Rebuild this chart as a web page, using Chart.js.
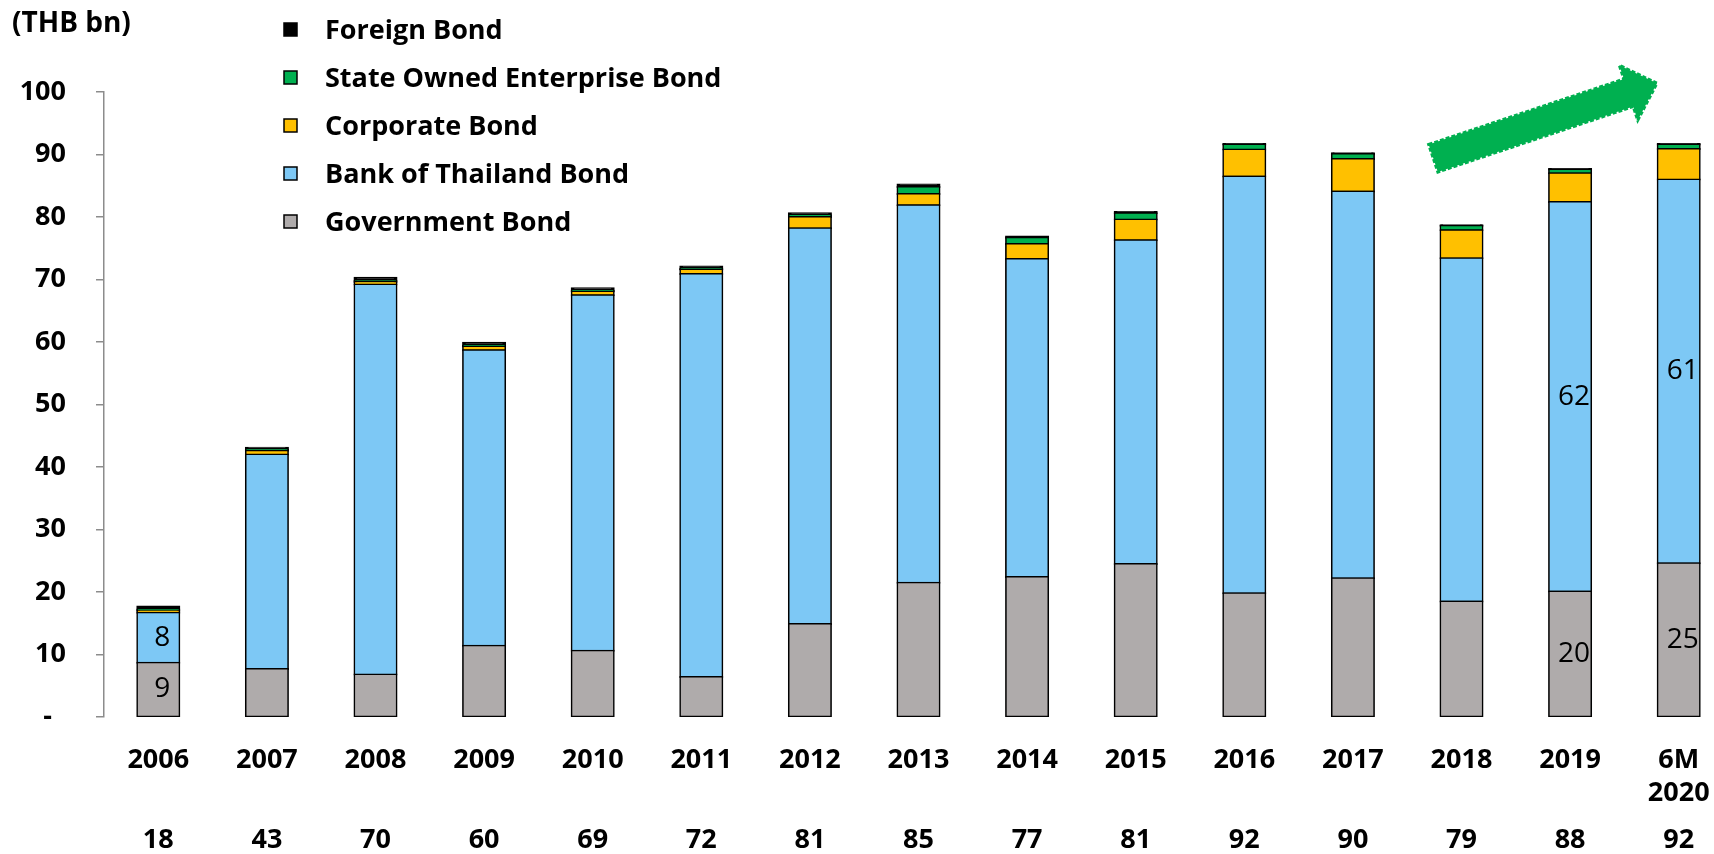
<!DOCTYPE html>
<html>
<head>
<meta charset="utf-8">
<title>Thai bond holdings (THB bn)</title>
<script src="https://cdn.jsdelivr.net/npm/chart.js@4.4.1/dist/chart.umd.min.js"></script>
<style>
  html, body { margin: 0; padding: 0; background: #ffffff; overflow: hidden; }
  #wrap { width: 1714px; height: 854px; overflow: hidden; position: relative; }
  canvas { display: block; }
</style>
</head>
<body>
<div id="wrap"><canvas id="chart" width="1733" height="854"></canvas></div>
<script>
// Years on the category axis (last one is the first half of 2020)
const categories = ['2006', '2007', '2008', '2009', '2010', '2011', '2012', '2013',
                    '2014', '2015', '2016', '2017', '2018', '2019', ['6M', '2020']];

// Holdings by bond type, THB bn
const governmentBond = [8.7, 7.7, 6.8, 11.4, 10.6, 6.4, 14.9, 21.5, 22.4, 24.5, 19.8, 22.2, 18.5, 20.1, 24.6];
const botBond        = [8.0, 34.3, 62.4, 47.3, 56.9, 64.5, 63.3, 60.4, 50.9, 51.8, 66.7, 61.9, 54.9, 62.3, 61.4];
const corporateBond  = [0.3, 0.6, 0.4, 0.6, 0.6, 0.7, 1.8, 1.8, 2.4, 3.3, 4.3, 5.2, 4.5, 4.6, 4.9];
const soeBond        = [0.2, 0.2, 0.2, 0.1, 0.1, 0.1, 0.3, 1.1, 1.0, 1.0, 0.8, 0.8, 0.7, 0.6, 0.7];
const foreignBond    = [0.5, 0.3, 0.5, 0.5, 0.4, 0.4, 0.3, 0.4, 0.2, 0.2, 0.1, 0.1, 0.1, 0.1, 0.1];

// Value axis ticks
const yTicks = [0, 10, 20, 30, 40, 50, 60, 70, 80, 90, 100];

// Bars whose government / BOT segments carry a value label
const labelledBars = [0, 13, 14];

const FONT = '"Open Sans", "Noto Sans", "Liberation Sans", sans-serif';
const AXIS_GREY = '#8c8c8c';

const series = [
  { label: 'Government Bond',             data: governmentBond, color: '#AFABAB' },
  { label: 'Bank of Thailand Bond',       data: botBond,        color: '#7DC8F5' },
  { label: 'Corporate Bond',              data: corporateBond,  color: '#FFC000' },
  { label: 'State Owned Enterprise Bond', data: soeBond,        color: '#00B050' },
  { label: 'Foreign Bond',                data: foreignBond,    color: '#000000' }
];

// Unit label, legend, segment values, totals row and the trend arrow
const decorations = {
  id: 'decorations',
  afterDraw(chart) {
    const ctx = chart.ctx;
    const xs = chart.scales.x;
    const ys = chart.scales.y;
    const area = chart.chartArea;
    ctx.save();

    // unit label
    ctx.fillStyle = '#000';
    ctx.font = 'bold 28px ' + FONT;
    ctx.textAlign = 'left';
    ctx.textBaseline = 'alphabetic';
    ctx.fillText('(THB bn)', 12, 32);

    // legend, top series first
    const dsList = chart.data.datasets;
    for (let k = 0; k < dsList.length; k++) {
      const ds = dsList[dsList.length - 1 - k];
      const cy = 29 + k * 48;
      ctx.fillStyle = ds.backgroundColor;
      ctx.fillRect(284, cy - 6, 13, 13);
      ctx.strokeStyle = '#000';
      ctx.lineWidth = 1.5;
      ctx.strokeRect(284, cy - 6, 13, 13);
      ctx.fillStyle = '#000';
      ctx.font = 'bold 27px ' + FONT;
      ctx.fillText(ds.label, 325, cy + 10);
    }

    // values inside the government and BOT segments
    ctx.font = '28px ' + FONT;
    ctx.textAlign = 'center';
    ctx.textBaseline = 'middle';
    ctx.fillStyle = '#000';
    for (let d = 0; d < 2; d++) {
      const meta = chart.getDatasetMeta(d);
      labelledBars.forEach(i => {
        const bar = meta.data[i];
        const v = dsList[d].data[i];
        ctx.fillText(String(Math.round(v)), bar.x + 4, (bar.y + bar.base) / 2);
      });
    }

    // totals row under the year labels
    ctx.font = 'bold 27px ' + FONT;
    ctx.textBaseline = 'alphabetic';
    categories.forEach((c, i) => {
      let total = 0;
      dsList.forEach(ds => { total += ds.data[i]; });
      ctx.fillText(String(Math.round(total)), xs.getPixelForValue(i), area.bottom + 131);
    });

    // upward trend arrow
    const x0 = xs.getPixelForValue(11.74), y0 = ys.getPixelForValue(89.4);
    const x1 = xs.getPixelForValue(13.80), y1 = ys.getPixelForValue(101.4);
    const ang = Math.atan2(y1 - y0, x1 - x0);
    const len = Math.hypot(x1 - x0, y1 - y0);
    const shaftHalf = 14.5, headHalf = 29, headLen = 30;
    ctx.translate(x0, y0);
    ctx.rotate(ang);
    ctx.beginPath();
    ctx.moveTo(0, -shaftHalf);
    ctx.lineTo(len - headLen, -shaftHalf);
    ctx.lineTo(len - headLen, -headHalf);
    ctx.lineTo(len, 0);
    ctx.lineTo(len - headLen, headHalf);
    ctx.lineTo(len - headLen, shaftHalf);
    ctx.lineTo(0, shaftHalf);
    ctx.closePath();
    ctx.fillStyle = '#00B050';
    ctx.fill();
    ctx.setLineDash([4, 2]);
    ctx.lineWidth = 3;
    ctx.strokeStyle = '#00B050';
    ctx.stroke();
    ctx.restore();
  }
};

new Chart(document.getElementById('chart'), {
  type: 'bar',
  data: {
    labels: categories,
    datasets: series.map(s => ({
      label: s.label,
      data: s.data,
      backgroundColor: s.color,
      borderColor: '#000000',
      borderWidth: 1.6,
      borderSkipped: false,
      inflateAmount: 1,
      categoryPercentage: 1.0,
      barPercentage: 0.387
    }))
  },
  options: {
    responsive: false,
    animation: false,
    devicePixelRatio: 1,
    layout: { padding: { top: 92, left: 0, right: 0, bottom: 0 } },
    plugins: {
      legend: { display: false },
      tooltip: { enabled: false },
      title: { display: false }
    },
    scales: {
      x: {
        type: 'category',
        stacked: true,
        offset: true,
        grid: { display: false },
        border: { display: false },
        ticks: {
          color: '#000',
          font: { family: FONT, size: 27, weight: 'bold', lineHeight: 1.22 },
          padding: 18.5,
          maxRotation: 0,
          minRotation: 0,
          autoSkip: false
        },
        afterFit(scale) { scale.height = 137; }
      },
      y: {
        stacked: true,
        min: 0,
        max: 100,
        afterBuildTicks(scale) { scale.ticks = yTicks.map(v => ({ value: v })); },
        ticks: {
          color: '#000',
          font: { family: FONT, size: 27, weight: 'bold' },
          padding: 30,
          callback: v => (v === 0 ? '-  ' : String(v))
        },
        grid: {
          display: true,
          drawOnChartArea: false,
          drawTicks: true,
          tickLength: 8,
          color: AXIS_GREY,
          lineWidth: 1.5
        },
        border: { display: true, color: AXIS_GREY, width: 1.5 },
        afterFit(scale) { scale.width = 104; }
      }
    }
  },
  plugins: [decorations]
});
</script>
</body>
</html>
